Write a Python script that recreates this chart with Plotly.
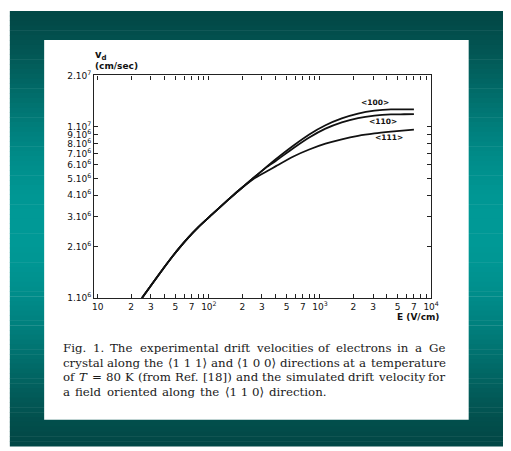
import re
import numpy as np
import plotly.graph_objects as go

# ---------------- data ----------------
E_100 = [25, 32, 40, 47, 55, 65, 80, 105, 147, 180, 250, 336, 405, 570, 800, 1120, 1570, 2200, 3090, 4350, 5700, 7000]
v_100 = [1.0e6, 1.25e6, 1.524e6, 1.75e6, 1.986e6, 2.25e6, 2.59e6, 3.05e6, 3.72e6, 4.18e6, 5.01e6, 5.9e6,
         6.52e6, 7.74e6, 9.04e6, 1.023e7, 1.122e7, 1.197e7, 1.245e7, 1.268e7, 1.265e7, 1.268e7]

E_110 = [25, 32, 40, 47, 55, 65, 80, 105, 147, 180, 250, 336, 405, 570, 800, 1120, 1570, 2200, 3090, 4350, 5700, 7000]
v_110 = [1.0e6, 1.25e6, 1.524e6, 1.75e6, 1.986e6, 2.25e6, 2.59e6, 3.05e6, 3.72e6, 4.18e6, 5.01e6, 5.86e6,
         6.37e6, 7.48e6, 8.67e6, 9.77e6, 1.064e7, 1.127e7, 1.164e7, 1.183e7, 1.186e7, 1.189e7]

E_111 = [25, 32, 40, 47, 55, 65, 80, 105, 147, 180, 250, 336, 405, 570, 800, 1120, 1570, 2200, 3090, 4350, 7000]
v_111 = [1.0e6, 1.25e6, 1.524e6, 1.75e6, 1.986e6, 2.25e6, 2.59e6, 3.05e6, 3.72e6, 4.18e6, 4.95e6, 5.52e6,
         5.92e6, 6.7e6, 7.38e6, 7.98e6, 8.47e6, 8.87e6, 9.16e6, 9.38e6, 9.64e6]

x_tickvals = [10, 20, 30, 40, 50, 60, 70, 80, 90,
              100, 200, 300, 400, 500, 600, 700, 800, 900,
              1000, 2000, 3000, 4000, 5000, 6000, 7000, 8000, 9000, 10000]
x_ticktext = ["10", "2", "3", "", "5", "", "7", "", "",
              "10<sup>2</sup>", "2", "3", "", "5", "", "7", "", "",
              "10<sup>3</sup>", "2", "3", "", "5", "", "7", "", "",
              "10<sup>4</sup>"]
y_tickvals = [1e6, 2e6, 3e6, 4e6, 5e6, 6e6, 7e6, 8e6, 9e6, 1e7, 2e7]
y_ticktext = ["1.10<sup>6</sup>", "2.10<sup>6</sup>", "3.10<sup>6</sup>", "4.10<sup>6</sup>",
              "5.10<sup>6</sup>", "6.10<sup>6</sup>", "7.10<sup>6</sup>", "8.10<sup>6</sup>",
              "9.10<sup>6</sup>", "1.10<sup>7</sup>", "2.10<sup>7</sup>"]

curve_labels = ["&lt;100&gt;", "&lt;110&gt;", "&lt;111&gt;"]

caption_lines = [
    ["Fig.", "1.", "The", "experimental", "drift", "velocities", "of", "electrons", "in", "a", "Ge"],
    ["crystal", "along", "the", "⟨1 1 1⟩", "and", "⟨1 0 0⟩", "directions", "at", "a", "temperature"],
    ["of", "<i>T</i>", "=", "80", "K", "(from", "Ref.", "[18])", "and", "the", "simulated", "drift",
     "velocity", "for"],
    ["a", "field", "oriented", "along", "the", "⟨1 1 0⟩", "direction."],
]

# ---------------- layout helpers (pixel geometry) ----------------
W, H = 511, 451
def px(x):
    return x / W
def py(y):
    return 1 - y / H

# approximate DejaVu Serif advance widths (em) used to justify the caption lines
CW = {' ': .318, 'a': .596, 'b': .640, 'c': .559, 'd': .640, 'e': .592, 'f': .371, 'g': .640, 'h': .644,
      'i': .320, 'l': .320, 'm': .960, 'n': .644, 'o': .602, 'p': .640, 'r': .478, 's': .513, 't': .402,
      'u': .644, 'v': .565, 'x': .564, 'y': .565, '.': .318, '(': .390, ')': .390, '[': .390, ']': .390,
      '=': .838, 'F': .721, 'G': .775, 'K': .763, 'R': .734, 'T': .730, '⟨': .390, '⟩': .390}
def word_w(w, size):
    plain = re.sub(r"<[^>]+>", "", w)
    return sum(CW.get(ch, .636) for ch in plain) * size

cap_size = 11.8
cap_left = 60
cap_right = [449.5, 449.5, 449.5, 328]
caption_y = [350, 365.3, 380.6, 396]

fig = go.Figure()
for E, v in [(E_100, v_100), (E_110, v_110), (E_111, v_111)]:
    fig.add_trace(go.Scatter(x=E, y=v, mode="lines",
                             line=dict(color="#111", width=1.8, shape="spline", smoothing=0.6),
                             showlegend=False, hoverinfo="skip"))

shapes = []
# teal gradient background
top, bot = 4, 451
n = 90
for i in range(n):
    y0 = top + (bot - top) * i / n
    y1 = top + (bot - top) * (i + 1) / n + 0.5
    t = ((y0 + y1) / 2 - top) / (bot - top)
    s = np.sin(np.pi * t) ** 1.4
    dark = np.array([3, 72, 70])
    light = np.array([0, 154, 151])
    c = dark + (light - dark) * s
    shapes.append(dict(type="rect", xref="paper", yref="paper", x0=px(8), x1=1.0, y0=py(y1), y1=py(y0),
                       fillcolor="rgb(%d,%d,%d)" % tuple(c.astype(int)), line=dict(width=0), layer="below"))
# white panel
shapes.append(dict(type="rect", xref="paper", yref="paper", x0=px(43), x1=px(476), y0=py(424), y1=py(34),
                   fillcolor="white", line=dict(width=0), layer="below"))

annotations = []
sans = "DejaVu Sans"
tick_font = dict(family=sans, size=9, color="#111")
annotations.append(dict(xref="paper", yref="paper", x=px(93), y=py(50), xanchor="left", yanchor="middle",
                        text="<b>v<sub>d</sub></b>", showarrow=False,
                        font=dict(family=sans, size=10, color="#111")))
annotations.append(dict(xref="paper", yref="paper", x=px(93), y=py(61), xanchor="left", yanchor="middle",
                        text="<b>(cm/sec)</b>", showarrow=False,
                        font=dict(family=sans, size=9, color="#111")))
annotations.append(dict(xref="paper", yref="paper", x=px(448), y=py(318), xanchor="right", yanchor="middle",
                        text="<b>E (V/cm)</b>", showarrow=False,
                        font=dict(family=sans, size=9, color="#111")))
label_pos = [(380, 98.3), (388.3, 117.5), (395, 134.5)]
for lab, (lx, ly) in zip(curve_labels, label_pos):
    annotations.append(dict(xref="paper", yref="paper", x=px(lx), y=py(ly), xanchor="center", yanchor="middle",
                            text="<b>" + lab + "</b>", showarrow=False,
                            font=dict(family=sans, size=7.5, color="#111")))
for words, yl, xr in zip(caption_lines, caption_y, cap_right):
    widths = [word_w(w, cap_size) for w in words]
    gap = (xr - cap_left - sum(widths)) / (len(words) - 1)
    xw = cap_left
    for w, ww in zip(words, widths):
        annotations.append(dict(xref="paper", yref="paper", x=px(xw), y=py(yl), xanchor="left",
                                yanchor="middle", text=w, showarrow=False,
                                font=dict(family="DejaVu Serif", size=cap_size, color="#1a1a1a")))
        xw += ww + gap

fig.update_layout(
    width=W, height=H, margin=dict(l=0, r=0, t=0, b=0),
    paper_bgcolor="white", plot_bgcolor="white",
    shapes=shapes, annotations=annotations,
    xaxis=dict(type="log", range=[0.968, 4.0], domain=[px(94), px(437.7)],
               tickvals=x_tickvals, ticktext=x_ticktext, ticks="inside", ticklen=4, tickwidth=1,
               tickcolor="#222", showline=True, linecolor="#222", linewidth=1.2, mirror="ticks",
               showgrid=False, zeroline=False, tickfont=tick_font, tickangle=0),
    yaxis=dict(type="log", range=[6.0, 7.301], domain=[py(299), py(70.3)],
               tickvals=y_tickvals, ticktext=y_ticktext, ticks="inside", ticklen=4, tickwidth=1,
               tickcolor="#222", showline=True, linecolor="#222", linewidth=1.2, mirror="ticks",
               showgrid=False, zeroline=False, tickfont=tick_font, ticklabelstandoff=0),
)

fig.write_html("out.html")
